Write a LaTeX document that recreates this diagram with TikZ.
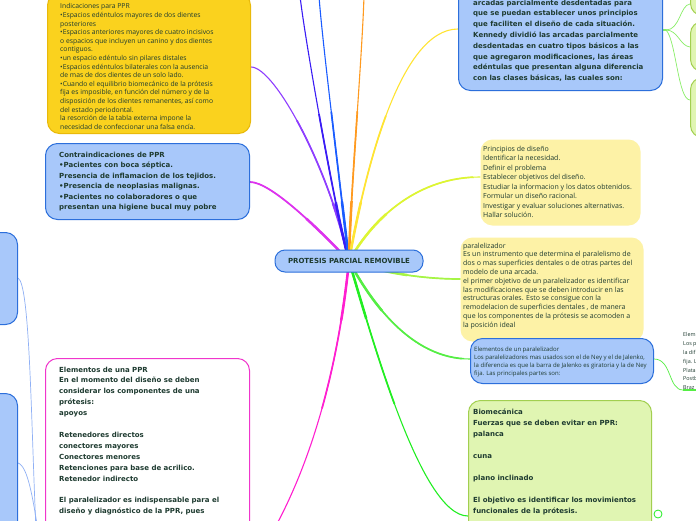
\documentclass[tikz,border=0pt]{standalone}
\usepackage{fontspec}
\setmainfont{Open Sans}
\newfontfamily\vfam{DejaVu Sans}
\usetikzlibrary{calc}
\pgfdeclarelayer{bg}
\pgfsetlayers{bg,main}
\definecolor{txt}{HTML}{1E3B30}
\definecolor{yelfill}{HTML}{FAD21E}
\definecolor{yelline}{HTML}{E9B90A}
\definecolor{bluefill}{HTML}{A8C8FA}
\definecolor{blueline}{HTML}{2C6FDB}
\definecolor{paleyel}{HTML}{FDF2A6}
\definecolor{greenfill}{HTML}{E0F5B2}
\definecolor{greenline}{HTML}{A2CF50}
\definecolor{magline}{HTML}{F035CC}
\definecolor{cpurple}{HTML}{8E3DFF}
\definecolor{cviolet}{HTML}{DD33EE}
\definecolor{cindigo}{HTML}{3A1CF5}
\definecolor{cblue}{HTML}{1A5CFF}
\definecolor{corange}{HTML}{FF9A1F}
\definecolor{cyellow}{HTML}{FFE433}
\definecolor{clime}{HTML}{DDF533}
\definecolor{clime2}{HTML}{A6F545}
\definecolor{cgreen}{HTML}{55EE44}
\definecolor{cgreen2}{HTML}{22EE22}
\definecolor{cmag}{HTML}{FF1FD0}
\definecolor{cpale}{HTML}{8FB0F5}
\definecolor{csub}{HTML}{88EE66}
\tikzset{
  boxbase/.style={anchor=north west, inner sep=0pt, rounded corners=12pt, line width=1pt},
  yelbox/.style={boxbase, fill=yelfill, draw=yelline},
  bluebox/.style={boxbase, fill=bluefill, draw=blueline},
  paleyelbox/.style={boxbase, fill=paleyel},
  greenbox/.style={boxbase, fill=greenfill, draw=greenline},
  magbox/.style={boxbase, fill=white, draw=magline},
  tx/.style={anchor=north west, inner sep=0pt, align=left, text=txt},
  thin/.style={line width=0.7pt, line cap=round}
}
% tapered mind-map connector: colour, path
\newcommand{\mmconn}[2]{%
  \draw[line width=1.1pt, line cap=round, #1] #2;
  \begin{scope}\clip (c.center) circle (150pt);
    \draw[line width=1.7pt, line cap=round, #1] #2;\end{scope}
  \begin{scope}\clip (c.center) circle (60pt);
    \draw[line width=2.5pt, line cap=round, #1] #2;\end{scope}}
\begin{document}
\begin{tikzpicture}[x=1pt,y=-1pt]
\useasboundingbox (0,0) rectangle (696,520);
\clip (0,0) rectangle (696,520);
\begin{pgfonlayer}{bg}
\fill[white] (0,0) rectangle (696,520);
\end{pgfonlayer}

% ---------- boxes ----------
\node[yelbox, minimum width=203pt, minimum height=140pt] (ind) at (47,-7) {};
\node[bluebox, minimum width=204pt, minimum height=76pt] (contra) at (45,143) {};
\node[bluebox, minimum width=204pt, minimum height=122pt] (ken) at (458,-32) {};
\node[greenbox, minimum width=40pt, minimum height=40pt] (g1) at (690,-25) {};
\node[greenbox, minimum width=40pt, minimum height=50pt] (g2) at (690,21) {};
\node[greenbox, minimum width=40pt, minimum height=60pt] (g3) at (690,77) {};
\node[paleyelbox, minimum width=160pt, minimum height=86pt] (prin) at (480,139) {};
\node[paleyelbox, minimum width=183pt, minimum height=104pt] (par) at (460,237) {};
\node[bluebox, minimum width=183pt, minimum height=45pt] (elpar) at (470,338) {};
\node[greenbox, minimum width=183pt, minimum height=160pt] (bio) at (468,400) {};
\node[magbox, minimum width=204pt, minimum height=200pt] (elppr) at (45,358) {};
\node[bluebox, minimum width=40pt, minimum height=92pt] (lb1) at (-23,232) {};
\node[bluebox, minimum width=40pt, minimum height=170pt] (lb2) at (-23,393) {};

% ---------- central node ----------
\node[draw=blueline, fill=bluefill, line width=1pt, rounded corners=10pt,
      minimum width=148pt, minimum height=22pt, inner sep=0pt, text=txt,
      font=\vfam\fontsize{7}{9}\selectfont\bfseries] (c) at (349,261) {PROTESIS PARCIAL REMOVIBLE};

% ---------- connectors (under the nodes) ----------
\begin{pgfonlayer}{bg}
\mmconn{cpurple}{(c.center) .. controls (330,170) and (275,67) .. ($(ind.north east)+(0,74)$)}
\mmconn{cviolet}{(c.center) .. controls (315,225) and (270,182) .. ($(contra.north east)+(0,39)$)}
\mmconn{cindigo}{(c.center) .. controls (335,210) and (305,40) .. (300,-4)}
\mmconn{cblue}{(c.center) .. controls (342,200) and (322,40) .. (319,-4)}
\mmconn{corange}{(c.center) .. controls (350,200) and (362,60) .. (364,-4)}
\mmconn{cyellow}{(c.center) .. controls (365,170) and (400,29) .. ($(ken.north west)+(0,61)$)}
\mmconn{clime}{(c.center) .. controls (375,215) and (420,177) .. ($(prin.north west)+(0,38)$)}
\mmconn{clime2}{(c.center) .. controls (380,272) and (420,279) .. ($(par.north west)+(0,42)$)}
\mmconn{cgreen}{(c.center) .. controls (370,300) and (410,359) .. ($(elpar.north west)+(0,21)$)}
\mmconn{cgreen2}{(c.center) .. controls (370,330) and (420,516) .. ($(bio.north west)+(0,116)$)}
\mmconn{cmag}{(c.center) .. controls (337,380) and (305,490) .. ($(elppr.north east)+(0,210)$)}

% sub connectors
\coordinate (kj) at ($(ken.north east)+(3,62)$);
\draw[thin, csub, line width=1.5pt] (ken.north east |- kj) -- (kj);
\draw[thin, csub] (kj) .. controls (680,30) and (680,5) .. ($(g1.south west)+(0,-12)$);
\draw[thin, csub] (kj) .. controls (678,30) and (680,46) .. ($(g2.north west)+(0,26)$);
\draw[thin, csub] (kj) .. controls (676,40) and (678,100) .. ($(g3.north west)+(0,23)$);
\coordinate (bz) at (698,390);
\draw[thin, cgreen] ($(elpar.north east)+(0,21)$) .. controls (672,359) and (668,390) .. (683,390) -- (bz);
\draw[thin, cpale] ($(lb1.north east)+(0,46)$) .. controls (30,284) and (31,420) .. (36,530);
\draw[thin, cpale] ($(lb2.north east)+(0,70)$) .. controls (28,466) and (33,500) .. (38,530);
\end{pgfonlayer}
\draw[cgreen, line width=1.5pt] (683,390) -- (bz);

\node[draw=cgreen2, line width=0.8pt, circle, minimum size=8pt, inner sep=0pt] (exp) at (658,514) {};

% ---------- texts ----------
\node[tx, font=\fontsize{6.8}{8.6}\selectfont] (tind) at (60,3.5) {Indicaciones para PPR\\
•Espacios edéntulos mayores de dos dientes\\
posteriores\\
•Espacios anteriores mayores de cuatro incisivos\\
o espacios que incluyen un canino y dos dientes\\
contiguos.\\
•un espacio edéntulo sin pilares distales\\
•Espacios edéntulos bilaterales con la ausencia\\
de mas de dos dientes de un solo lado.\\
•Cuando el equilibrio biomecánico de la prótesis\\
fija es imposible, en función del número y de la\\
disposición de los dientes remanentes, así como\\
del estado periodontal.\\
la resorción de la tabla externa impone la\\
necesidad de confeccionar una falsa encía.};

\node[tx, font=\vfam\fontsize{7}{10.5}\selectfont\bfseries] (tcontra) at (59,151.5) {Contraindicaciones de PPR\\
•Pacientes con boca séptica.\\
Presencia de inflamacion de los tejidos.\\
•Presencia de neoplasias malignas.\\
•Pacientes no colaboradores o que\\
presentan una higiene bucal muy pobre};

\node[tx, font=\vfam\fontsize{7}{10.8}\selectfont\bfseries] (tken) at (473,-0.5) {arcadas parcialmente desdentadas para\\
que se puedan establecer unos principios\\
que faciliten el diseño de cada situación.\\
Kennedy dividió las arcadas parcialmente\\
desdentadas en cuatro tipos básicos a las\\
que agregaron modificaciones, las áreas\\
edéntulas que presentan alguna diferencia\\
con las clases básicas, las cuales son:};

\node[tx, font=\fontsize{7}{9.5}\selectfont] (tprin) at (483,145.5) {Principios de diseño\\
Identificar la necesidad.\\
Definir el problema\\
Establecer objetivos del diseño.\\
Estudiar la informacion y los datos obtenidos.\\
Formular un diseño racional.\\
Investigar y evaluar soluciones alternativas.\\
Hallar solución.};

\node[tx, font=\fontsize{7}{8.8}\selectfont] (tpar) at (463,242.5) {paralelizador\\
Es un instrumento que determina el paralelismo de\\
dos o mas superficies dentales o de otras partes del\\
modelo de una arcada.\\
el primer objetivo de un paralelizador es identificar\\
las modificaciones que se deben introducir en las\\
estructuras orales. Esto se consigue con la\\
remodelacion de superficies dentales , de manera\\
que los componentes de la prótesis se acomoden a\\
la posición ideal};

\node[tx, font=\fontsize{6}{8}\selectfont] (telpar) at (474,347) {Elementos de un paralelizador\\
Los paralelizadores mas usados son el de Ney y el de Jalenko,\\
la diferencia es que la barra de Jalenko es giratoria y la de Ney\\
fija. Las principales partes son:};

\node[tx, font=\fontsize{5.4}{8.8}\selectfont] (tright) at (683,332.5) {Elem\\
Los p\\
la dif\\
fija. L\\
Plata\\
Postb\\
Braz};

\node[tx, font=\vfam\fontsize{7}{11}\selectfont\bfseries] (tbio) at (473,408.5) {Biomecánica\\
Fuerzas que se deben evitar en PPR:\\
palanca\\
\mbox{}\\
cuna\\
\mbox{}\\
plano inclinado\\
\mbox{}\\
El objetivo es identificar los movimientos\\
funcionales de la prótesis.};

\node[tx, font=\vfam\fontsize{7}{10.9}\selectfont\bfseries] (telppr) at (59,366.5) {Elementos de una PPR\\
En el momento del diseño se deben\\
considerar los componentes de una\\
prótesis:\\
apoyos\\
\mbox{}\\
Retenedores directos\\
conectores mayores\\
Conectores menores\\
Retenciones para base de acrilico.\\
Retenedor indirecto\\
\mbox{}\\
El paralelizador es indispensable para el\\
diseño y diagnóstico de la PPR, pues};
\end{tikzpicture}
\end{document}
